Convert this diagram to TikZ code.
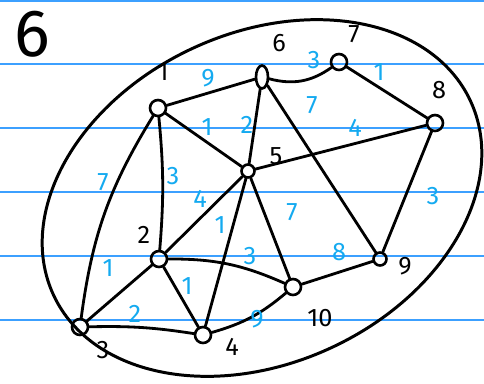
\documentclass[tikz,border=0pt]{standalone}
\usepackage{fontspec}
\setmainfont{Fira Sans}
\usetikzlibrary{shapes.geometric, positioning}
\definecolor{RuleBlue}{RGB}{60, 160, 255}
\definecolor{WeightBlue}{RGB}{20, 170, 240}

\begin{document}
\begin{tikzpicture}[
    x=0.02cm, y=-0.02cm,
    vertex/.style={circle, draw, line width=1.5pt, minimum size=0.32cm, inner sep=0pt},
    vlabel/.style={font=\Large, text=black, inner sep=1pt},
    weight/.style={font=\Large, text=WeightBlue, inner sep=1pt},
    edge/.style={draw, line width=1.6pt, line cap=round}
  ]
    \useasboundingbox (0,0) rectangle (484,383);

    % Ruled paper
    \foreach \y in {1,64,128,192,256,320}
      \draw[RuleBlue, line width=1pt] (0,\y) -- (484,\y);

    % Title
    \node[font=\fontsize{38}{38}\selectfont\mdseries] (title) at (32,34) {6};

    % Outer loop
    \draw[line width=1.7pt, rotate around={25:(262,198)}] (262,198) ellipse [x radius=4.6cm, y radius=3.3cm];

    % Vertices
    \node[vertex] (n1) at (158,108) {};
    \node[vertex, ellipse, minimum width=0.24cm, minimum height=0.46cm] (n6) at (262,77) {};
    \node[vertex] (n7) at (339,62) {};
    \node[vertex] (n8) at (435,123) {};
    \node[vertex, minimum size=0.26cm] (n5) at (248,171) {};
    \node[vertex] (n2) at (159,259) {};
    \node[vertex] (n3) at (80,327) {};
    \node[vertex] (n4) at (203,335) {};
    \node[vertex] (n10) at (293,287) {};
    \node[vertex, minimum size=0.26cm] (n9) at (380,259) {};

    % Vertex numbers
    \node[vlabel] (l1) at (163,72) {1};
    \node[vlabel] (l6) at (279,43) {6};
    \node[vlabel] (l7) at (354,34) {7};
    \node[vlabel] (l8) at (439,90) {8};
    \node[vlabel] (l5) at (276,156) {5};
    \node[vlabel] (l2) at (144,235) {2};
    \node[vlabel] (l3) at (103,350) {3};
    \node[vlabel] (l4) at (232,347) {4};
    \node[vlabel] (l10) at (320,318) {10};
    \node[vlabel] (l9) at (405,266) {9};

    % Connections
    \draw[edge] (n1) -- (n6);
    \draw[edge] (n6) to[bend right=25] (n7);
    \draw[edge] (n7) -- (n8);
    \draw[edge] (n6) -- (n5);
    \draw[edge] (n6) -- (n9);
    \draw[edge] (n5) -- (n8);
    \draw[edge] (n8) -- (n9);
    \draw[edge] (n1) -- (n5);
    \draw[edge] (n1) to[bend left=5] (n2);
    \draw[edge] (n1) to[bend right=12] (n3);
    \draw[edge] (n2) -- (n5);
    \draw[edge] (n5) -- (n4);
    \draw[edge] (n5) -- (n10);
    \draw[edge] (n2) to[bend left=12] (n10);
    \draw[edge] (n2) -- (n3);
    \draw[edge] (n2) -- (n4);
    \draw[edge] (n3) to[bend left=5] (n4);
    \draw[edge] (n4) to[bend right=12] (n10);
    \draw[edge] (n10) -- (n9);

    % Weights
    \node[weight] (w16) at (208,78) {9};
    \node[weight] (w67) at (314,60) {3};
    \node[weight] (w78) at (379,72) {1};
    \node[weight] (w65) at (247,125) {2};
    \node[weight] (w69) at (312,105) {7};
    \node[weight] (w58) at (355,128) {4};
    \node[weight] (w89) at (433,196) {3};
    \node[weight] (w15) at (207,127) {1};
    \node[weight] (w12) at (173,176) {3};
    \node[weight] (w13) at (103,182) {7};
    \node[weight] (w25) at (200,199) {4};
    \node[weight] (w54) at (220,225) {1};
    \node[weight] (w510) at (292,212) {7};
    \node[weight] (w210) at (250,256) {3};
    \node[weight] (w23) at (108,268) {1};
    \node[weight] (w24) at (187,286) {1};
    \node[weight] (w34) at (135,314) {2};
    \node[weight] (w410) at (257,319) {9};
    \node[weight] (w109) at (339,252) {8};
  \end{tikzpicture}
\end{document}
